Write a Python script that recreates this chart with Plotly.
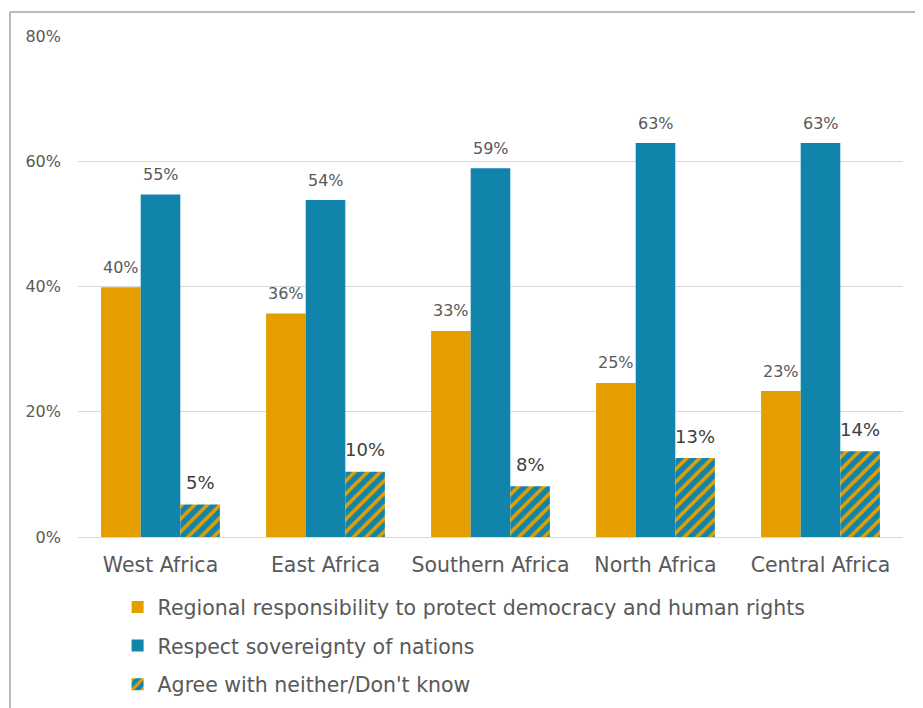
import plotly.graph_objects as go

categories = ["West Africa", "East Africa", "Southern Africa", "North Africa", "Central Africa"]
regional = [39.9, 35.7, 32.9, 24.6, 23.3]
sovereignty = [54.7, 53.8, 58.9, 62.9, 62.9]
neither = [5.2, 10.4, 8.1, 12.6, 13.7]
regional_labels = ["40%", "36%", "33%", "25%", "23%"]
sovereignty_labels = ["55%", "54%", "59%", "63%", "63%"]
neither_labels = ["5%", "10%", "8%", "13%", "14%"]
series_names = ["Regional responsibility to protect democracy and human rights",
                "Respect sovereignty of nations",
                "Agree with neither/Don't know"]

ORANGE = "#E59E00"
BLUE = "#1184AC"
FONT = "DejaVu Sans"

fig = go.Figure()
fig.add_trace(go.Bar(
    x=categories, y=regional, name=series_names[0], legendgroup="a",
    marker=dict(color=ORANGE, line=dict(width=0))))
fig.add_trace(go.Bar(
    x=categories, y=sovereignty, name=series_names[1], legendgroup="b",
    marker=dict(color=BLUE, line=dict(width=0))))
fig.add_trace(go.Bar(
    x=categories, y=neither, name=series_names[2], legendgroup="c",
    marker=dict(color=BLUE, line=dict(width=0),
                pattern=dict(shape="/", bgcolor=BLUE, fgcolor=ORANGE,
                             size=9, solidity=0.4, fillmode="replace", fgopacity=1))))

# data labels above each bar (offset to each bar of the group)
bar_w = 825 / 5 * 0.72 / 3
label_sets = [
    (regional, regional_labels, -bar_w, 16, "#595959", 20),
    (sovereignty, sovereignty_labels, 0, 16, "#595959", 20),
    (neither, neither_labels, bar_w, 18, "#404040", 22),
]
for vals, labs, dx, fs, col, dy in label_sets:
    for cat, v, lab in zip(categories, vals, labs):
        fig.add_annotation(x=cat, y=v, text=lab, showarrow=False,
                           xshift=dx, yshift=dy, yanchor="middle",
                           font=dict(size=fs, color=col, family=FONT))

fig.update_layout(
    width=923, height=708,
    paper_bgcolor="white", plot_bgcolor="white",
    margin=dict(l=70, r=28, t=28, b=179, autoexpand=False),
    barmode="group", bargap=0.28, bargroupgap=0,
    font=dict(family=FONT, color="#595959"),
    showlegend=True,
    legend=dict(orientation="v", x=0.048, xanchor="left", y=-0.1, yanchor="top",
                traceorder="grouped", tracegroupgap=9,
                font=dict(size=20.5, color="#595959", family=FONT),
                bgcolor="rgba(0,0,0,0)"),
    xaxis=dict(showline=True, linecolor="#d9d9d9", linewidth=1, ticks="",
               ticklabelstandoff=9,
               tickfont=dict(size=20.5, color="#595959", family=FONT)),
    yaxis=dict(range=[0, 80], dtick=20, ticksuffix="%", showgrid=True,
               gridcolor="#d9d9d9", gridwidth=1, zeroline=False, showline=False,
               ticklabelstandoff=16,
               tickfont=dict(size=16, color="#595959", family=FONT)),
    shapes=[
        dict(type="line", xref="paper", yref="paper",
             x0=-68/825, x1=1+40/825, y0=1+24/501, y1=1+24/501,
             line=dict(color="#a6a6a6", width=1.5)),
        dict(type="line", xref="paper", yref="paper",
             x0=-68/825, x1=-68/825, y0=1+24/501, y1=-179/501,
             line=dict(color="#a6a6a6", width=1.5)),
    ],
)

fig.write_html("out.html")
